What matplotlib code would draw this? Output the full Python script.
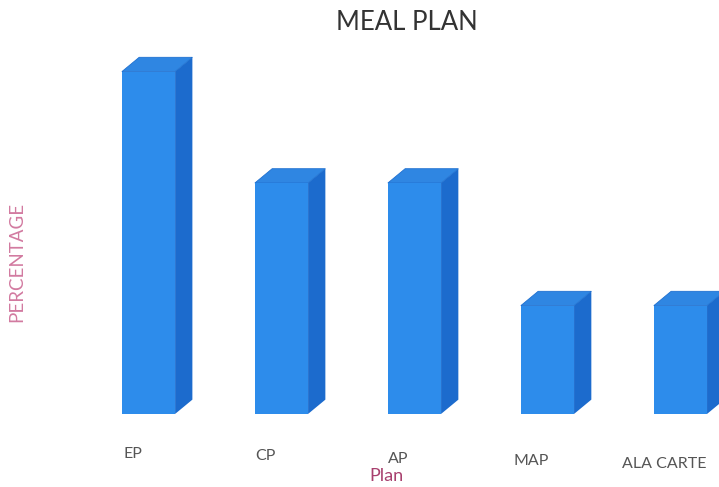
import matplotlib
matplotlib.use("Agg")
import matplotlib.pyplot as plt
from matplotlib.patches import Polygon

plt.rcParams.update({"font.family": ["Lato", "DejaVu Sans"]})

# share of guests by meal plan (%)
plans = ["EP", "CP", "AP", "MAP", "ALA CARTE"]
share = [33.5, 22.6, 22.6, 10.6, 10.6]

FRONT = "#2d8ceb"
SIDE = "#1c6bcd"
TOP = "#2f86e2"

W = 0.40          # front face width (category units)
DX, DY = 0.13, 1.4  # extrusion toward the back-right

fig = plt.figure(figsize=(7.19, 4.87), dpi=100)
ax = fig.add_axes([82 / 719, 0.150, 1 - 82 / 719, 0.768])
ax.set_xlim(-0.5, 4.29)
ax.set_ylim(0, 36.6)
ax.axis("off")

xs = list(range(len(plans)))
ax.bar(xs, share, W, color=FRONT, zorder=3)
for x, v in zip(xs, share):
    r, l = x + W / 2, x - W / 2
    ax.add_patch(Polygon([(r, 0), (r + DX, DY), (r + DX, v + DY), (r, v)],
                         closed=True, fc=SIDE, ec="none", zorder=2))
    ax.add_patch(Polygon([(l, v), (l + DX, v + DY), (r + DX, v + DY), (r, v)],
                         closed=True, fc=TOP, ec="#1f70d0", lw=0.6, zorder=2))
    ax.text(x - 0.12, -3.9 - 0.25 * x, plans[x], ha="center", va="center",
            fontsize=11.5, color="#555555")

fig.text(407 / 719, 1 - 23 / 487, "MEAL PLAN", ha="center", va="center",
         fontsize=18.5, color="#333333")
fig.text(386 / 719, 1 - 476 / 487, "Plan", ha="center", va="center",
         fontsize=13, color="#a8406e")
fig.text(17 / 719, 1 - 262 / 487, "PERCENTAGE", ha="center", va="center",
         rotation=90, fontsize=13.5, color="#d27aa0")

fig.savefig("out.png", dpi=100)
